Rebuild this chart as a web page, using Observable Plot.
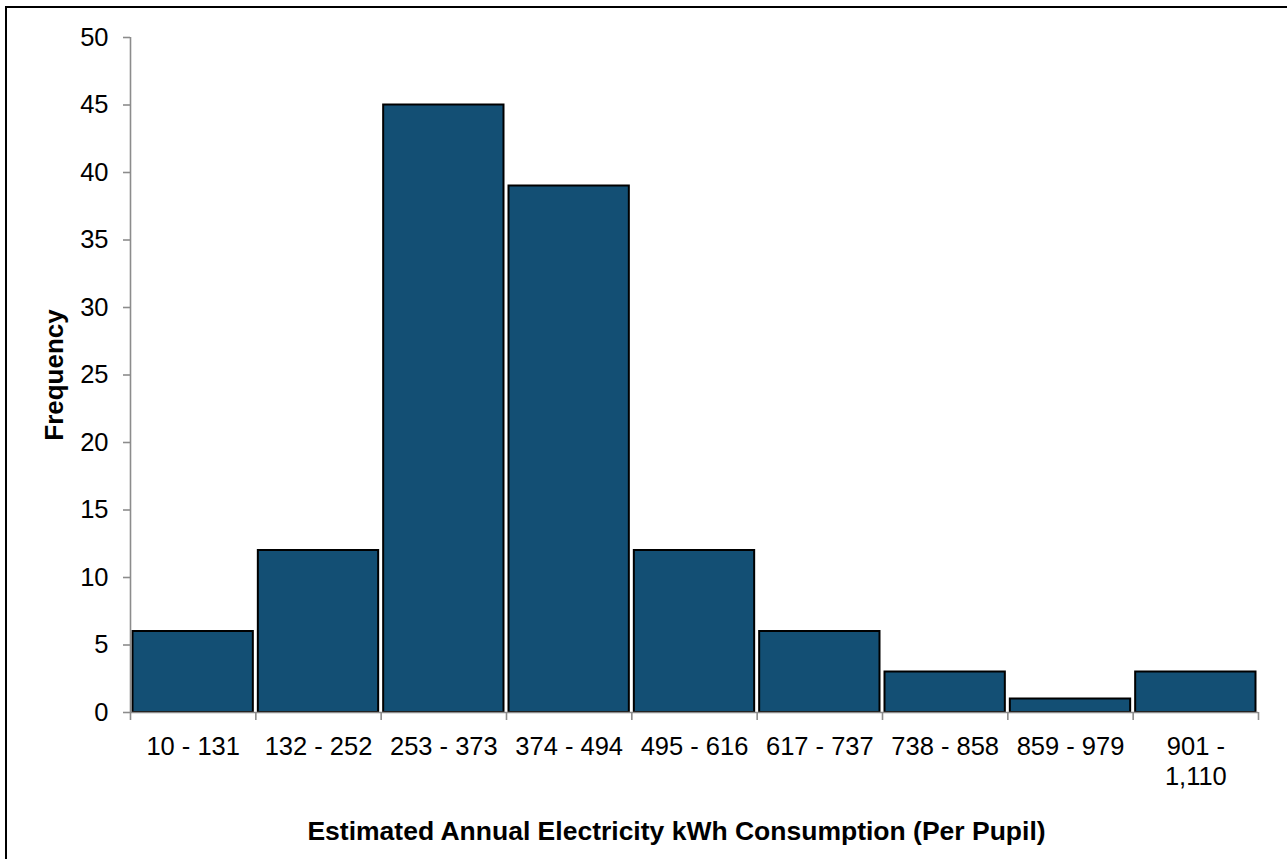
<!DOCTYPE html>
<html><head><meta charset="utf-8">
<script src="https://cdn.jsdelivr.net/npm/d3@7"></script>
<script src="https://cdn.jsdelivr.net/npm/@observablehq/plot@0.6"></script>
<style>
html,body{margin:0;padding:0;background:#fff;overflow:hidden;}
#wrap{position:relative;width:1287px;height:859px;}
#frame{position:absolute;left:5px;top:6px;width:1400px;height:1000px;border:2px solid #000;box-sizing:border-box;pointer-events:none;z-index:2}
svg{display:block}
</style></head><body><div id="wrap"><div id="frame"></div></div>
<script>
const categories = ["10 - 131", "132 - 252", "253 - 373", "374 - 494", "495 - 616", "617 - 737", "738 - 858", "859 - 979", "901 -\n1,110"];
const frequencies = [6, 12, 45, 39, 12, 6, 3, 1, 3];
const yTicks = [0, 5, 10, 15, 20, 25, 30, 35, 40, 45, 50];
const binEdges = [0, 1, 2, 3, 4, 5, 6, 7, 8, 9];
const yTitle = "Frequency";
const xTitle = "Estimated Annual Electricity kWh Consumption (Per Pupil)";

const bins = categories.map((c, i) => ({label: c, x1: binEdges[i], x2: binEdges[i + 1], value: frequencies[i]}));
const axisColor = "#8c8c8c";
const font = "'Liberation Sans', Arial, sans-serif";

const chart = Plot.plot({
  width: 1287,
  height: 859,
  marginLeft: 130,
  marginRight: 29,
  marginTop: 37,
  marginBottom: 147,
  style: {fontFamily: font, fontSize: "25.5px", background: "transparent", color: "#000"},
  x: {type: "linear", domain: [binEdges[0], binEdges[binEdges.length - 1]]},
  y: {domain: [yTicks[0], yTicks[yTicks.length - 1]]},
  marks: [
    Plot.rectY(bins, {x1: "x1", x2: "x2", y: "value", fill: "#134f74", stroke: "#000", strokeWidth: 2, insetLeft: 2.5, insetRight: 2.5}),
    Plot.ruleX([binEdges[0]], {stroke: axisColor, strokeWidth: 1.6}),
    Plot.ruleY([0], {stroke: axisColor, strokeWidth: 1.6}),
    Plot.axisY({ticks: yTicks, tickSize: 7, tickPadding: 15, stroke: axisColor, strokeWidth: 1.6, label: null, fill: "#000", fontSize: 25.5}),
    Plot.axisX({ticks: binEdges, tickSize: 8, tickFormat: () => "", stroke: axisColor, strokeWidth: 1.6, label: null}),
    Plot.text(bins, {x: d => (d.x1 + d.x2) / 2, y: () => 0, text: "label", lineAnchor: "top", dy: 21, fontSize: 25.5, lineHeight: 1.18, fill: "#000"}),
    Plot.text([yTitle], {frameAnchor: "left", textAnchor: "middle", dx: -76, rotate: -90, fontWeight: "bold", fontSize: 26, fill: "#000"}),
    Plot.text([xTitle], {frameAnchor: "bottom", textAnchor: "middle", dx: -18, dy: 127, fontWeight: "bold", fontSize: 26.5, fill: "#000"})
  ]
});
document.getElementById("wrap").appendChild(chart);
chart.style.position = "absolute";
chart.style.left = "0px";
chart.style.top = "0px";
</script>
</body></html>
